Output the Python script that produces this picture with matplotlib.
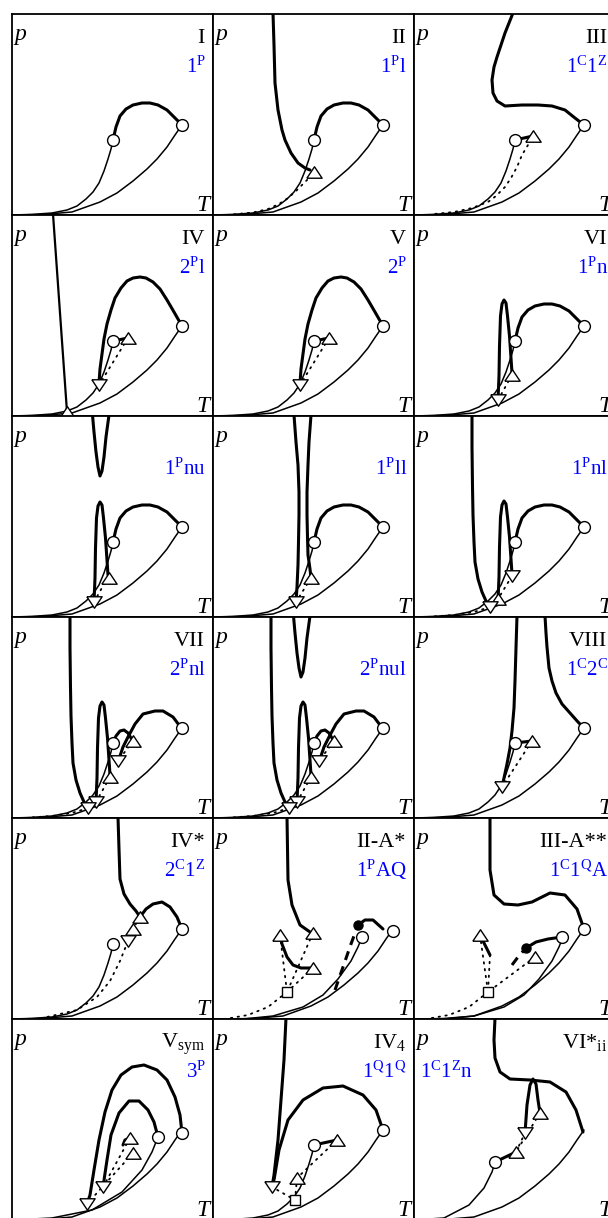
import matplotlib.pyplot as plt

plt.rcParams['font.family'] = ['Liberation Serif', 'DejaVu Serif']
plt.rcParams['mathtext.fontset'] = 'custom'
plt.rcParams['mathtext.rm'] = 'Liberation Serif'
plt.rcParams['mathtext.it'] = 'Liberation Serif:italic'

# panel labels, row by row
roman = ['I', 'II', 'III', 'IV', 'V', 'VI', '', '', '', 'VII', '', 'VIII',
         'IV*', 'II-A*', 'III-A**', r'V$_\mathrm{sym}$', r'IV$_4$', r'VI*$_\mathrm{ii}$']
codes = [r'$\mathrm{1^P}$', r'$\mathrm{1^Pl}$', r'$\mathrm{1^C1^Z}$',
         r'$\mathrm{2^Pl}$', r'$\mathrm{2^P}$', r'$\mathrm{1^Pn}$',
         r'$\mathrm{1^Pnu}$', r'$\mathrm{1^Pll}$', r'$\mathrm{1^Pnl}$',
         r'$\mathrm{2^Pnl}$', r'$\mathrm{2^Pnul}$', r'$\mathrm{1^C2^C}$',
         r'$\mathrm{2^C1^Z}$', r'$\mathrm{1^PAQ}$', r'$\mathrm{1^C1^QA}$',
         r'$\mathrm{3^P}$', r'$\mathrm{1^Q1^Q}$', r'$\mathrm{1^C1^Zn}$']

# shared curves (T, p) in panel units
vp1 = [(0, 0), (20, 0.6), (40, 2), (55, 5), (65, 9), (74, 16), (81, 23), (87, 32),
       (92, 44), (96, 56), (99, 66), (101, 75)]
vp2 = [(0, 0), (30, 0.5), (60, 3), (88, 13), (105, 22), (121, 34), (135, 46),
       (145, 56), (155, 68), (163, 80), (170, 90)]
crit_hump = [(101, 75), (104, 88), (108, 99), (114, 106), (121, 110), (130, 112),
             (138, 112), (146, 110), (155, 105), (163, 97), (170, 90)]
crit_peak = [(170, 90), (162, 104), (155, 116), (148, 127), (141, 134), (134, 138),
             (128, 139), (121, 138), (115, 135), (109, 128), (103, 118), (99, 106),
             (95, 92), (92, 77), (90, 62), (88, 47), (87, 33)]
crit_small = [(170, 89), (161, 101), (151, 107), (143, 107), (131, 104), (123, 94),
              (116, 81), (111, 71), (108, 62), (106, 57)]
hump_small = [(101, 75), (104, 82), (108, 87), (112, 88), (116, 85), (119, 80), (121, 77)]
c_pts = [(101, 75), (170, 90)]

# II
top_2 = [(60, 202), (61, 170), (62, 132), (65, 105), (69, 85), (72, 75), (78, 62),
         (85, 52), (92, 47), (97, 45)]
dot_2 = [(99, 40), (92, 33), (83, 24), (75, 17), (66, 11), (55, 6), (40, 2.5), (20, 0.6)]
# III
top_3 = [(170, 90), (161, 97), (151, 105), (138, 109), (124, 110), (108, 110), (91, 109),
         (83, 114), (79, 122), (78, 135), (80, 148), (83, 158), (87, 170), (91, 182),
         (95, 192), (99, 202)]
dot_3 = [(117, 76), (114, 70), (108, 60), (103, 48), (97, 37), (91, 28), (82, 19),
         (74, 13), (58, 7), (40, 3), (20, 1)]
ucep_4 = (116, 78)
lcep_4 = (87, 31)
steep_4 = [(41, 202), (55, 4)]
# VI and row 3 loops
loop_6 = [(84, 16), (85, 40), (85.5, 70), (86.5, 100), (88, 112), (90, 116), (92, 113),
          (93.5, 100), (95.5, 80), (97, 58), (98, 43)]
u_nu = [(80.5, 202), (82, 185), (84, 165), (86, 150), (88, 141), (90, 146), (92, 160),
        (94, 180), (97, 202)]
left_ll = [(81, 202), (83, 175), (85, 152), (86, 125), (86, 102), (85.5, 75), (85, 52),
           (84, 30), (83, 15)]
right_ll = [(98, 202), (96, 175), (95, 152), (94, 125), (94, 102), (94.5, 80), (95, 62),
            (97, 48), (98, 39)]
left_nl = [(58, 202), (58, 170), (58.5, 130), (59, 102), (60, 75), (61, 55), (64, 38),
           (68, 25), (72, 16), (76, 10)]
tail_nl = [(76, 10), (60, 5), (40, 2), (20, 0.6)]
# VIII
left_8 = [(103, 202), (102, 170), (101, 137), (100, 110), (98, 87), (96, 70), (93, 54),
          (90, 40), (88, 31)]
right_8 = [(131, 202), (132, 185), (133, 171), (135, 150), (138, 137), (142, 125),
           (148, 114), (156, 105), (164, 96), (170, 90)]
# row 5
top_ivs = [(106, 202), (107, 170), (108, 140), (112, 125), (118, 115), (124, 108), (128, 102)]
crit_ivs = [(128, 102), (134, 110), (141, 115), (150, 117), (158, 112), (165, 102), (170, 90)]
dot_ivs = [(128, 102), (121, 90), (116, 78), (108, 58), (98, 38), (85, 22), (65, 9), (35, 2)]
top_2a = [(74, 202), (75, 139), (79, 114), (87, 94), (97, 87)]
left_2a = [(67, 84), (69, 75), (74, 62), (80, 54), (88, 51), (100, 51)]
dot_2a = [(67, 84), (74, 27)]
dot_2a_b = [(100, 86), (74, 27)]
dot_2a_c = [(100, 51), (74, 27)]
dot_2a_d = [(74, 27), (55, 12), (35, 4), (15, 0.5)]
azeo_2a = [(122, 29), (130, 52), (138, 75), (145, 94)]
crit_2a = [(145, 94), (152, 99), (160, 99), (170, 90)]
vp_a = [(30, 0), (60, 3), (90, 12), (110, 24), (125, 40), (138, 58), (145, 72), (149, 82)]
top_3a = [(76, 202), (76, 149), (80, 124), (90, 115), (104, 114), (118, 117), (136, 126),
          (151, 124), (163, 110), (170, 90)]
left_3a = [(66, 84), (70, 76), (76, 64)]
crit_3a = [(112, 71), (122, 77), (134, 80), (148, 82)]
azeo_3a = [(98, 54), (104, 62), (112, 71)]
# row 6
out_sym = [(170, 87), (168, 105), (163, 123), (155, 140), (145, 150), (132, 155),
           (120, 153), (109, 145), (100, 130), (93, 108), (87, 80), (82, 50), (78, 25),
           (75, 16)]
in_sym = [(146, 83), (142, 98), (136, 110), (127, 119), (117, 119), (107, 107),
          (99, 85), (95, 60), (91, 33)]
vp_s = [(0, 0), (40, 2), (80, 10), (110, 28), (130, 50), (140, 68), (146, 83)]
top_q = [(73, 202), (71, 160), (68, 120), (65, 80), (61, 45), (59, 33)]
crit_q = [(61, 40), (66, 70), (75, 100), (90, 120), (110, 132), (130, 134), (150, 125),
          (163, 110), (170, 90)]
top_z = [(81, 202), (80, 180), (81, 162), (86, 148), (96, 141), (116, 140), (136, 138),
         (152, 128), (162, 110), (169, 88)]
loop_z = [(111, 87), (113, 115), (116, 135), (119, 141), (122, 136), (124, 120), (126, 107)]


PANEL = 201
W, H = 608, 1218
fig = plt.figure(figsize=(W / 100, H / 100), dpi=100)


def panel(i):
    r, c = divmod(i, 3)
    ax = fig.add_axes([(12 + c * PANEL) / W, 1 - (14 + (r + 1) * PANEL) / H,
                       PANEL / W, PANEL / H])
    ax.set_xlim(0, PANEL)
    ax.set_ylim(0, PANEL)
    ax.set_xticks([])
    ax.set_yticks([])
    for s in ax.spines.values():
        s.set_linewidth(1.3)
    ax.text(2, 175, 'p', style='italic', fontsize=17, ha='left', va='baseline')
    ax.text(198, 4, 'T', style='italic', fontsize=17, ha='right', va='baseline')
    ax.text(193, 172, roman[i], fontsize=16, ha='right', va='baseline')
    if i == 17:
        ax.text(6, 142, codes[i], fontsize=15, color='#0000ff', ha='left', va='baseline')
    else:
        ax.text(194, 142, codes[i], fontsize=15, color='#0000ff', ha='right', va='baseline')
    return ax


def line(ax, pts, lw=1.1, **kw):
    t, p = zip(*pts)
    ax.plot(t, p, color='black', lw=lw, solid_capstyle='round', solid_joinstyle='round', **kw)


def thick(ax, pts):
    line(ax, pts, lw=2.2)


def dotted(ax, pts):
    line(ax, pts, lw=1.3, ls=(0, (0.8, 3)), dash_capstyle='round')


def dashed(ax, pts):
    line(ax, pts, lw=2.2, ls=(0, (3, 2.2)))


TRI_UP = [(-1, -0.75), (1, -0.75), (0, 0.75), (-1, -0.75)]
TRI_DN = [(-1, 0.75), (1, 0.75), (0, -0.75), (-1, 0.75)]


def mark(ax, pts, kind):
    t, p = zip(*pts)
    style = {'o': dict(marker='o', ms=8.5), 'u': dict(marker=TRI_UP, ms=11),
             'd': dict(marker=TRI_DN, ms=11), 's': dict(marker='s', ms=7),
             'f': dict(marker='o', ms=6.5)}[kind]
    face = 'black' if kind == 'f' else 'white'
    ax.plot(t, p, ls='none', mfc=face, mec='black', mew=1.0, zorder=5, **style)


def base(ax, crit=True):
    line(ax, vp1)
    line(ax, vp2)
    if crit:
        thick(ax, crit_hump)


# I
ax = panel(0)
base(ax)
mark(ax, c_pts, 'o')

# II
ax = panel(1)
base(ax)
thick(ax, top_2)
dotted(ax, dot_2)
mark(ax, c_pts, 'o')
mark(ax, [(101, 43)], 'u')

# III
ax = panel(2)
base(ax, crit=False)
thick(ax, top_3)
thick(ax, [(101, 75), (119, 79)])
dotted(ax, dot_3)
mark(ax, c_pts, 'o')
mark(ax, [(119, 79)], 'u')

# IV and V
for i in (3, 4):
    ax = panel(i)
    base(ax, crit=False)
    thick(ax, crit_peak)
    thick(ax, [(101, 75), ucep_4])
    dotted(ax, [ucep_4, lcep_4])
    mark(ax, c_pts, 'o')
    mark(ax, [ucep_4], 'u')
    mark(ax, [lcep_4], 'd')
    if i == 3:
        line(ax, steep_4, lw=1.6)
        mark(ax, [steep_4[-1]], 'u')

# VI
ax = panel(5)
base(ax)
thick(ax, loop_6)
dotted(ax, [(98, 41), (84, 16)])
mark(ax, c_pts, 'o')
mark(ax, [(98, 41)], 'u')
mark(ax, [(84, 16)], 'd')

# 1Pnu
ax = panel(6)
base(ax)
thick(ax, u_nu)
thick(ax, [(x - 2, y - 1) for x, y in loop_6])
dotted(ax, [(96, 40), (82, 15)])
mark(ax, c_pts, 'o')
mark(ax, [(97, 39)], 'u')
mark(ax, [(82, 15)], 'd')

# 1Pll
ax = panel(7)
base(ax)
thick(ax, left_ll)
thick(ax, right_ll)
dotted(ax, [(98, 39), (83, 15)])
mark(ax, c_pts, 'o')
mark(ax, [(98, 39)], 'u')
mark(ax, [(83, 15)], 'd')

# 1Pnl
ax = panel(8)
base(ax)
thick(ax, left_nl)
thick(ax, loop_6)
dotted(ax, [(98, 41), (84, 18)])
dotted(ax, tail_nl)
mark(ax, c_pts, 'o')
mark(ax, [(84, 18)], 'u')
mark(ax, [(98, 41), (76, 10)], 'd')

# VII and 2Pnul
for i in (9, 10):
    ax = panel(i)
    base(ax, crit=False)
    thick(ax, left_nl)
    thick(ax, loop_6)
    thick(ax, crit_small)
    thick(ax, hump_small)
    dotted(ax, [(121, 77), (106, 57)])
    dotted(ax, [(98, 41), (84, 16)])
    dotted(ax, tail_nl)
    if i == 10:
        thick(ax, u_nu)
    mark(ax, c_pts, 'o')
    mark(ax, [(98, 41), (121, 77)], 'u')
    mark(ax, [(84, 16), (76, 10), (106, 57)], 'd')

# VIII
ax = panel(11)
base(ax, crit=False)
thick(ax, left_8)
thick(ax, right_8)
thick(ax, [(101, 75), (118, 77)])
dotted(ax, [(118, 77), (88, 31)])
mark(ax, c_pts, 'o')
mark(ax, [(118, 77)], 'u')
mark(ax, [(88, 31)], 'd')

# IV*
ax = panel(12)
base(ax, crit=False)
thick(ax, top_ivs)
thick(ax, crit_ivs)
dotted(ax, dot_ivs)
mark(ax, c_pts, 'o')
mark(ax, [(128, 102), (121, 90)], 'u')
mark(ax, [(116, 78)], 'd')

# II-A*
ax = panel(13)
line(ax, vp_a)
line(ax, [(x + 10, y) for x, y in vp2])
thick(ax, top_2a)
thick(ax, left_2a)
thick(ax, crit_2a)
dashed(ax, azeo_2a)
for d in (dot_2a, dot_2a_b, dot_2a_c, dot_2a_d):
    dotted(ax, d)
mark(ax, [(149, 82), (180, 88)], 'o')
mark(ax, [(67, 84), (100, 86), (100, 51)], 'u')
mark(ax, [(74, 27)], 's')
mark(ax, [(145, 94)], 'f')

# III-A**
ax = panel(14)
line(ax, vp_a)
line(ax, vp2)
thick(ax, top_3a)
thick(ax, left_3a)
thick(ax, crit_3a)
dashed(ax, azeo_3a)
dotted(ax, [(66, 84), (74, 27)])
dotted(ax, [(76, 64), (74, 27)])
dotted(ax, [(121, 62), (74, 27)])
dotted(ax, dot_2a_d)
mark(ax, [(148, 82), (170, 90)], 'o')
mark(ax, [(66, 84), (121, 62)], 'u')
mark(ax, [(74, 27)], 's')
mark(ax, [(112, 71)], 'f')

# V_sym
ax = panel(15)
line(ax, vp_s)
line(ax, vp2)
thick(ax, out_sym)
thick(ax, in_sym)
thick(ax, [(111, 75), (113, 80), (118, 82)])
dotted(ax, [(118, 82), (91, 33)])
dotted(ax, [(121, 67), (75, 16)])
mark(ax, [(146, 83), (170, 87)], 'o')
mark(ax, [(118, 82), (121, 67)], 'u')
mark(ax, [(91, 33), (75, 16)], 'd')

# IV_4
ax = panel(16)
base(ax, crit=False)
thick(ax, top_q)
thick(ax, crit_q)
thick(ax, [(101, 75), (124, 80)])
dotted(ax, [(124, 80), (84, 42)])
dotted(ax, [(84, 42), (82, 20), (59, 33)])
mark(ax, c_pts, 'o')
mark(ax, [(124, 80), (84, 42)], 'u')
mark(ax, [(59, 33)], 'd')
mark(ax, [(82, 20)], 's')

# VI*_ii
ax = panel(17)
line(ax, [(0, 0), (30, 2), (55, 15), (70, 32), (78, 48), (81, 58)])
line(ax, vp2)
thick(ax, top_z)
thick(ax, loop_z)
thick(ax, [(81, 58), (102, 68)])
dotted(ax, [(102, 68), (111, 87)])
dotted(ax, [(126, 107), (102, 68)])
mark(ax, [(81, 58)], 'o')
mark(ax, [(102, 68), (126, 107)], 'u')
mark(ax, [(111, 87)], 'd')

fig.savefig('out.png', dpi=100)
